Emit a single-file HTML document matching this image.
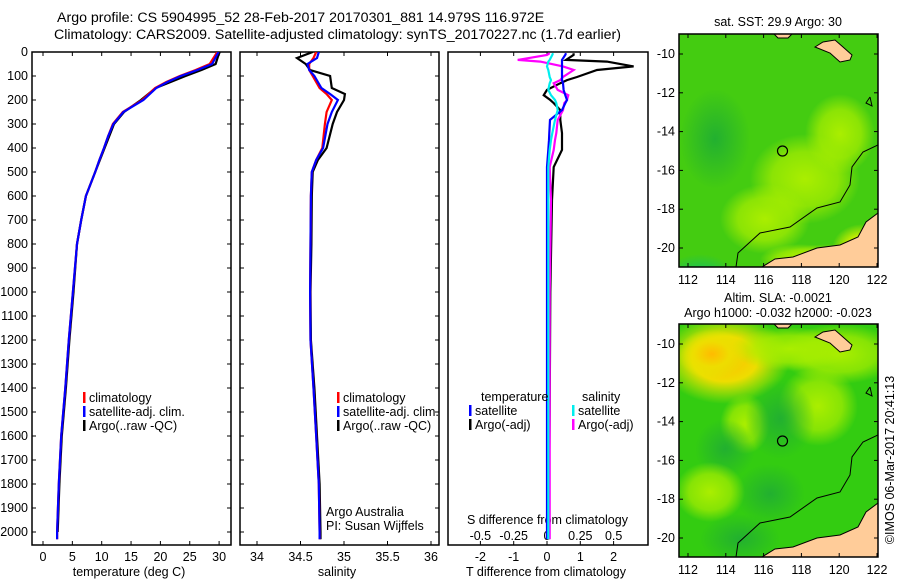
<!DOCTYPE html>
<html><head><meta charset="utf-8">
<style>
html,body{margin:0;padding:0;background:#fff;}
svg{display:block;font-family:"Liberation Sans",sans-serif;}
text{font-size:12.5px;fill:#000;}
</style></head>
<body>
<svg id="fig" width="900" height="580" viewBox="0 0 900 580" xmlns="http://www.w3.org/2000/svg">
<defs>
<clipPath id="c1"><rect x="32" y="52" width="199" height="493"/></clipPath>
<clipPath id="c2"><rect x="240" y="52" width="199" height="493"/></clipPath>
<clipPath id="c3"><rect x="448" y="52" width="200" height="493"/></clipPath>
<clipPath id="m1"><rect x="679" y="34" width="199" height="233"/></clipPath>
<clipPath id="m2"><rect x="679" y="324" width="199" height="233"/></clipPath>
<radialGradient id="g-yel" cx="0.5" cy="0.5" r="0.5"><stop offset="0" stop-color="#ffd000"/><stop offset="0.5" stop-color="#ccee00"/><stop offset="1" stop-color="#ccee00" stop-opacity="0"/></radialGradient>
<radialGradient id="g-lt" cx="0.5" cy="0.5" r="0.5"><stop offset="0" stop-color="#aaee00"/><stop offset="0.6" stop-color="#aaee00" stop-opacity="0.7"/><stop offset="1" stop-color="#aaee00" stop-opacity="0"/></radialGradient>
<radialGradient id="g-dk" cx="0.5" cy="0.5" r="0.5"><stop offset="0" stop-color="#22b030"/><stop offset="1" stop-color="#22b030" stop-opacity="0"/></radialGradient>
<radialGradient id="g-teal" cx="0.5" cy="0.5" r="0.5"><stop offset="0" stop-color="#00bb88"/><stop offset="1" stop-color="#00bb88" stop-opacity="0"/></radialGradient>
<radialGradient id="g-or" cx="0.5" cy="0.5" r="0.5"><stop offset="0" stop-color="#ffbb00"/><stop offset="0.5" stop-color="#eedd00"/><stop offset="1" stop-color="#ddee00" stop-opacity="0"/></radialGradient>
</defs>
<text x="57" y="22" style="font-size:14.2px">Argo profile: CS 5904995_52 28-Feb-2017 20170301_881 14.979S 116.972E</text>
<text x="54" y="39" style="font-size:14.2px">Climatology: CARS2009. Satellite-adjusted climatology: synTS_20170227.nc (1.7d earlier)</text>
<g id="p1"></g>
<g id="p2"></g>
<g id="p3"></g>
<g id="map1"></g>
<g id="map2"></g>
<text transform="translate(894,460) rotate(-90)" text-anchor="middle">©IMOS 06-Mar-2017 20:41:13</text>
</svg>
<script>
const depthTicks=[0,100,200,300,400,500,600,700,800,900,1000,1100,1200,1300,1400,1500,1600,1700,1800,1900,2000];
const tempTicks=[0,5,10,15,20,25,30];
const salTicks=[34,34.5,35,35.5,36];
const salTickLabels=["34","34.5","35","35.5","36"];
const tdiffTicks=[-2,-1,0,1,2];
const sdiffTicks=[-0.5,-0.25,0,0.25,0.5];
const sdiffTickLabels=["-0.5","-0.25","0","0.25","0.5"];
const depthClim=[0,50,75,100,125,150,200,250,300,350,400,450,500,600,700,800,1000,1200,1400,1600,1800,2000,2030];
const tempClim=[29.7,28.4,26.0,23.3,21.0,19.1,16.9,13.6,11.9,11.1,10.4,9.6,8.9,7.3,6.5,5.8,5.1,4.4,3.8,3.1,2.7,2.4,2.4];
const tempSat=[29.9,28.8,26.3,23.5,21.2,19.3,17.1,13.7,12.0,11.1,10.4,9.6,8.9,7.3,6.5,5.8,5.1,4.4,3.8,3.1,2.7,2.4,2.4];
const depthArgo=[0,20,50,75,100,150,200,250,300,400,500,600,700,800,1000,1200,1400,1600,1800,2000];
const tempArgo=[30.1,29.8,29.4,27.0,24.3,19.2,16.7,13.8,12.1,10.5,8.9,7.3,6.5,5.8,5.2,4.5,3.9,3.2,2.8,2.5];
const salDepth=[0,25,50,75,100,150,175,200,250,300,400,450,500,600,800,1000,1200,1400,1600,1800,2000,2030];
const salClim=[34.68,34.65,34.6,34.6,34.64,34.72,34.8,34.86,34.8,34.78,34.75,34.68,34.63,34.62,34.615,34.61,34.615,34.65,34.68,34.71,34.72,34.72];
const salSat=[34.71,34.69,34.58,34.6,34.66,34.74,34.84,34.93,34.86,34.81,34.76,34.68,34.63,34.62,34.615,34.61,34.615,34.65,34.68,34.71,34.72,34.72];
const salArgo=[34.64,34.46,34.56,34.61,34.84,34.86,35.01,35.0,34.92,34.87,34.8,34.7,34.64,34.63,34.625,34.615,34.62,34.66,34.69,34.72,34.73,34.73];
const diffDepth=[5,12,33,40,60,75,104,117,130,158,180,200,213,242,283,338,367,408,479,617,1000,1500,2030];
const tdiffSat=[0.57,0.55,0.45,0.45,0.45,0.45,0.45,0.45,0.48,0.5,0.55,0.6,0.55,0.45,0.09,0.07,0.06,0.04,0,0,0,0,0];
const tdiffArgo=[0.8,0.8,0.57,1.8,2.6,1.5,0.9,0.6,0.4,0,-0.1,0.1,0.2,0.4,0.4,0.45,0.45,0.45,0.2,0.15,0.1,0.08,0.05];
const sdiffSat=[0.045,0.04,0.02,0.01,0,0.01,0.02,0.03,0.02,0.01,0.03,0.06,0.07,0.08,0.06,0.04,0.03,0.02,0.01,0.01,0.01,0.01,0.01];
const sdiffArgo=[0.02,0.0,-0.22,-0.05,0.12,0.2,0.12,0.1,0.05,0.08,0.16,0.15,0.13,0.12,0.08,0.07,0.06,0.05,0.02,0.03,0.02,0.02,0.02];

const NS='http://www.w3.org/2000/svg';
function mk(parent,tag,attrs){const e=document.createElementNS(NS,tag);for(const k in attrs)e.setAttribute(k,attrs[k]);parent.appendChild(e);return e;}
const yD=d=>52+d*0.24;
const xT=t=>43+t*5.87;
const xS=s=>257+(s-34)*87;
const xTd=t=>547+t*33.3;
const xSd=s=>547+s*133.3;

function frame(g,x0,w,name){
  const r=mk(g,'rect',{x:x0,y:52,width:w,height:493,fill:'none',stroke:'#000','stroke-width':1.5});
  
  
  depthTicks.forEach(d=>{
    mk(g,'line',{x1:x0,x2:x0+4,y1:yD(d),y2:yD(d),stroke:'#000'});
    mk(g,'line',{x1:x0+w-4,x2:x0+w,y1:yD(d),y2:yD(d),stroke:'#000'});
  });
}
function xticks(g,vals,labels,fx,y,name){
  vals.forEach((v,i)=>{
    mk(g,'line',{x1:fx(v),x2:fx(v),y1:545,y2:541,stroke:'#000'});
    mk(g,'line',{x1:fx(v),x2:fx(v),y1:52,y2:56,stroke:'#000'});
    const t=mk(g,'text',{x:fx(v),y:y,'text-anchor':'middle'});
    t.textContent=labels[i];
    
    
  });
}
function line(g,xs,ds,fx,color,clip,name){
  const pts=xs.map((v,i)=>fx(v).toFixed(1)+','+yD(ds[i]).toFixed(1)).join(' ');
  const p=mk(g,'polyline',{points:pts,fill:'none',stroke:color,'stroke-width':2.2,'clip-path':'url(#'+clip+')'});
  
  
}
function label(g,x,y,txt,name,anchor){
  const t=mk(g,'text',{x:x,y:y,'text-anchor':anchor||'start'});
  t.textContent=txt;
  
  
  return t;
}
function legend(g,x,y,color,txt,name){
  mk(g,'rect',{x:x,y:y-10,width:2.5,height:11,fill:color});
  label(g,x+6,y,txt,name);
}

// Panel 1
const p1=document.getElementById('p1');
frame(p1,32,199,'temperature-axes-frame');
depthTicks.forEach(d=>{label(p1,28,yD(d)+4,String(d),'depth-tick-label','end');});
xticks(p1,tempTicks,tempTicks.map(String),xT,561,'temperature-tick-label');
label(p1,129,576,'temperature (deg C)','temperature-axis-title','middle');
line(p1,tempArgo,depthArgo,xT,'#000','c1','temperature-argo-line');
line(p1,tempClim,depthClim,xT,'#f00','c1','temperature-climatology-line');
line(p1,tempSat,depthClim,xT,'#00f','c1','temperature-satellite-line');
legend(p1,83,402,'#f00','climatology','legend-climatology');
legend(p1,83,416,'#00f','satellite-adj. clim.','legend-satellite-adj');
legend(p1,83,430,'#000','Argo(..raw -QC)','legend-argo');

// Panel 2
const p2=document.getElementById('p2');
frame(p2,240,199,'salinity-axes-frame');
xticks(p2,salTicks,salTickLabels,xS,561,'salinity-tick-label');
label(p2,337,576,'salinity','salinity-axis-title','middle');
line(p2,salArgo,salDepth,xS,'#000','c2','salinity-argo-line');
line(p2,salClim,salDepth,xS,'#f00','c2','salinity-climatology-line');
line(p2,salSat,salDepth,xS,'#00f','c2','salinity-satellite-line');
legend(p2,337,402,'#f00','climatology','legend-climatology');
legend(p2,337,416,'#00f','satellite-adj. clim.','legend-satellite-adj');
legend(p2,337,430,'#000','Argo(..raw -QC)','legend-argo');
label(p2,326,516,'Argo Australia','argo-australia-note');
label(p2,326,530,'PI: Susan Wijffels','pi-note');

// Panel 3
const p3=document.getElementById('p3');
const f3=mk(p3,'rect',{x:448,y:52,width:200,height:493,fill:'none',stroke:'#000','stroke-width':1.5});


tdiffTicks.forEach(v=>{mk(p3,'line',{x1:xTd(v),x2:xTd(v),y1:545,y2:541,stroke:'#000'});mk(p3,'line',{x1:xTd(v),x2:xTd(v),y1:52,y2:56,stroke:'#000'});
  label(p3,xTd(v),561,String(v),'tdiff-tick-label','middle');});
sdiffTicks.forEach((v,i)=>{label(p3,xSd(v),540,sdiffTickLabels[i],'sdiff-tick-label','middle');});
label(p3,467,524,'S difference from climatology','sdiff-axis-title');
label(p3,546,576,'T difference from climatology','tdiff-axis-title','middle');
line(p3,tdiffArgo,diffDepth,xTd,'#000','c3','tdiff-argo-line');
line(p3,sdiffArgo,diffDepth,xSd,'#f0f','c3','sdiff-argo-line');
line(p3,tdiffSat,diffDepth,xTd,'#00f','c3','tdiff-satellite-line');
line(p3,sdiffSat,diffDepth,xSd,'#0ee','c3','sdiff-satellite-line');
label(p3,481,401,'temperature','legend-temperature-heading');
label(p3,582,401,'salinity','legend-salinity-heading');
legend(p3,469,415,'#00f','satellite','legend-tdiff-satellite');
legend(p3,469,429,'#000','Argo(-adj)','legend-tdiff-argo');
legend(p3,572,415,'#0ee','satellite','legend-sdiff-satellite');
legend(p3,572,429,'#f0f','Argo(-adj)','legend-sdiff-argo');

// Maps
const lonTicks=[112,114,116,118,120,122];
const latTicks=[-10,-12,-14,-16,-18,-20];
function drawMap(g,y0,clip,titles,blobs,base){
  const xL=lo=>688+(lo-112)*18.9;
  const yL=la=>y0+20+(-10-la)*19.4;
  const gg=mk(g,'g',{'clip-path':'url(#'+clip+')'});
  mk(gg,'rect',{x:679,y:y0,width:199,height:233,fill:base});
  blobs.forEach(b=>{mk(gg,'ellipse',{cx:b[0],cy:y0+b[1],rx:b[2],ry:b[3],fill:'url(#'+b[4]+')'});});
  const off=y0-34;
  const sh=pts=>pts.map(p=>p[0]+','+(p[1]+off)).join(' ');
  mk(gg,'polygon',{points:sh([[762,267],[775,259],[793,257],[817,248],[840,245],[858,237],[866,222],[878,213],[878,267]]),fill:'#ffcc99',stroke:'#000','stroke-width':1});
  mk(gg,'polygon',{points:sh([[815,47],[823,42],[835,40],[843,47],[852,55],[850,60],[840,62],[830,53]]),fill:'#ffcc99',stroke:'#000','stroke-width':1});
  mk(gg,'polygon',{points:sh([[774,34],[792,34],[788,38],[778,38]]),fill:'#ffcc99',stroke:'#000','stroke-width':1});
  mk(gg,'polyline',{points:sh([[736,267],[738,253],[760,233],[790,227],[817,208],[840,202],[850,185],[852,167],[863,152],[878,145]]),fill:'none',stroke:'#000','stroke-width':1});
  mk(gg,'polyline',{points:sh([[870,97],[866,103],[872,106],[870,97]]),fill:'none',stroke:'#000','stroke-width':1});
  const c=mk(g,'circle',{cx:xL(117),cy:yL(-15),r:5,fill:'none',stroke:'#000','stroke-width':1.2});
  
  
  const fr=mk(g,'rect',{x:679,y:y0,width:199,height:233,fill:'none',stroke:'#000','stroke-width':1.5});
  
  
  lonTicks.forEach(lo=>{mk(g,'line',{x1:xL(lo),x2:xL(lo),y1:y0+233,y2:y0+229,stroke:'#000'});mk(g,'line',{x1:xL(lo),x2:xL(lo),y1:y0,y2:y0+4,stroke:'#000'});
    label(g,xL(lo),y0+250,String(lo),'longitude-tick-label','middle');});
  latTicks.forEach(la=>{mk(g,'line',{x1:679,x2:683,y1:yL(la),y2:yL(la),stroke:'#000'});mk(g,'line',{x1:874,x2:878,y1:yL(la),y2:yL(la),stroke:'#000'});
    label(g,675,yL(la)+4,String(la),'latitude-tick-label','end');});
  titles.forEach(t=>label(g,t[0],t[1],t[2],t[3],'middle'));
}
drawMap(document.getElementById('map1'),34,'m1',[[778,26,'sat. SST: 29.9 Argo: 30','sst-map-title']],
  [[700,250,40,30,'g-teal'],[805,145,55,45,'g-lt'],[765,185,45,35,'g-lt'],[840,100,35,40,'g-lt'],[830,235,60,25,'g-yel'],[862,215,30,25,'g-yel'],[800,225,40,15,'g-lt'],[715,105,35,50,'g-dk']],'#44cc11');
drawMap(document.getElementById('map2'),324,'m2',[[778,302,'Altim. SLA: -0.0021','sla-title'],[778,317,'Argo h1000: -0.032 h2000: -0.023','argo-height-title']],
  [[725,35,65,45,'g-or'],[840,30,60,30,'g-lt'],[790,25,60,22,'g-lt'],[745,100,25,30,'g-lt'],[818,82,40,40,'g-lt'],[712,30,35,25,'g-or'],[780,95,35,40,'g-dk'],[725,125,30,30,'g-dk'],[770,170,35,30,'g-dk'],[710,168,35,30,'g-lt'],[740,215,40,25,'g-dk']],'#33cc11');
</script>
</body></html>
